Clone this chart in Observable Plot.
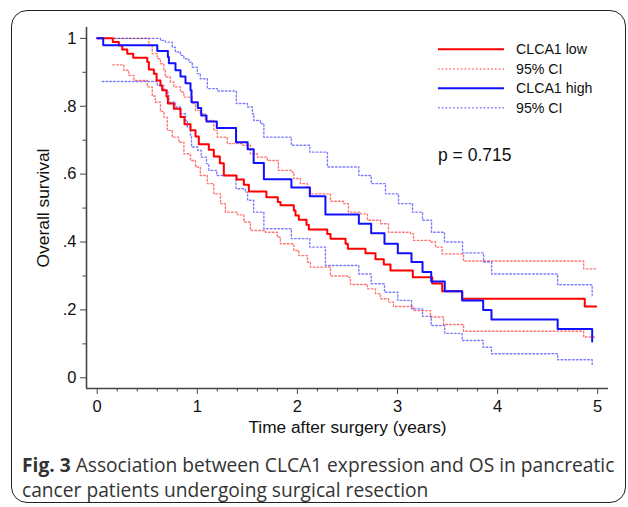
<!DOCTYPE html>
<html><head><meta charset="utf-8">
<script src="https://cdn.jsdelivr.net/npm/d3@7"></script>
<script src="https://cdn.jsdelivr.net/npm/@observablehq/plot@0.6"></script>
<style>
body{margin:0;background:#fff;}
#wrap{position:relative;width:628px;height:507px;overflow:hidden;background:#fff;}
#frame{position:absolute;left:11px;top:10px;width:615px;height:493px;box-sizing:border-box;border:1.6px solid #222;border-radius:16px;}
#chart{position:absolute;left:0;top:0;}
#chart svg text{font-family:"Liberation Sans", Arial, sans-serif;}
#caption{position:absolute;left:22px;top:452px;font-family:"Open Sans";font-size:19.2px;line-height:25px;color:#333;white-space:nowrap;}
</style></head><body>
<div id="wrap"><div id="frame"></div><div id="chart"></div>
<div id="caption"><b>Fig. 3</b> Association between CLCA1 expression and OS in pancreatic<br>cancer patients undergoing surgical resection</div></div>
<script>
// ---- data ----
const lowTime = [0,0.156,0.216,0.25,0.30,0.36,0.50,0.516,0.566,0.593,0.632,0.649,0.692,0.706,0.766,0.832,0.872,0.932,0.982,1.015,1.115,1.165,1.225,1.265,1.392,1.465,1.515,1.69,1.804,1.831,1.964,1.981,2.014,2.091,2.114,2.298,2.331,2.481,2.504,2.680,2.780,2.863,2.930,3.153,3.347,3.447,3.646,4.871,4.985];
const lowSurv = [1,.989,.979,.967,.955,.943,.930,.908,.896,.876,.861,.847,.829,.808,.793,.768,.747,.729,.711,.688,.672,.652,.632,.596,.584,.569,.549,.532,.518,.508,.493,.478,.466,.451,.437,.424,.410,.395,.380,.367,.349,.334,.316,.296,.278,.255,.233,.210,.210];

const lowUpTime = [0.166,0.516,0.55,0.60,0.632,0.666,0.68,0.73,0.766,0.832,0.866,0.95,0.982,1.03,1.08,1.165,1.20,1.30,1.45,1.53,1.60,1.70,1.81,1.95,1.964,2.03,2.10,2.13,2.33,2.46,2.51,2.63,2.70,2.83,2.91,3.13,3.16,3.33,3.38,3.446,3.66,4.86,4.985];
const lowUpSurv = [1,.979,.955,.94,.925,.906,.886,.871,.857,.842,.827,.808,.788,.778,.758,.729,.709,.69,.685,.66,.65,.64,.611,.606,.587,.572,.562,.542,.52,.513,.488,.483,.464,.454,.429,.424,.405,.40,.385,.365,.344,.321,.321];

const lowLoTime = [0.156,0.266,0.316,0.366,0.50,0.55,0.58,0.632,0.666,0.70,0.75,0.816,0.866,0.932,0.982,1.03,1.10,1.165,1.232,1.28,1.40,1.465,1.53,1.68,1.80,1.83,1.964,2.014,2.10,2.13,2.33,2.50,2.53,2.70,2.78,2.83,2.91,2.96,3.16,3.33,3.46,3.66,4.86,4.985];
const lowLoSurv = [.922,.906,.891,.876,.857,.83,.812,.785,.768,.729,.709,.694,.66,.640,.621,.596,.572,.542,.513,.488,.480,.459,.434,.429,.414,.395,.375,.360,.341,.326,.30,.296,.275,.262,.248,.233,.223,.21,.198,.179,.157,.137,.12,.12];

const highTime = [0,0.06,0.60,0.706,0.716,0.782,0.832,0.882,0.932,0.942,1.005,1.039,1.092,1.195,1.387,1.503,1.563,1.665,1.94,2.124,2.28,2.614,2.737,2.87,3.003,3.14,3.25,3.337,3.472,3.646,3.856,3.939,4.60,4.945];
const highSurv = [1,.98,.963,.945,.927,.906,.888,.868,.847,.812,.795,.773,.755,.736,.694,.673,.633,.585,.561,.535,.481,.454,.426,.395,.367,.341,.312,.284,.255,.228,.200,.172,.144,.107];

const highUpTime = [0.06,0.632,0.68,0.75,0.78,0.832,0.866,0.915,0.95,1.0,1.03,1.10,1.20,1.39,1.50,1.55,1.565,1.63,1.665,1.94,2.124,2.30,2.614,2.737,2.88,3.01,3.15,3.25,3.34,3.47,3.65,3.86,3.94,4.60,4.945];
const highUpSurv = [1,.994,.989,.974,.96,.95,.94,.93,.915,.896,.881,.852,.845,.808,.798,.778,.758,.749,.709,.685,.665,.621,.596,.572,.542,.513,.488,.464,.429,.40,.368,.341,.306,.274,.243];

const highLoTime = [0.05,0.60,0.666,0.706,0.716,0.782,0.832,0.882,0.90,0.932,0.942,1.005,1.039,1.092,1.115,1.195,1.387,1.48,1.503,1.563,1.665,1.94,2.124,2.28,2.614,2.737,2.87,3.003,3.14,3.25,3.337,3.472,3.646,3.856,3.939,4.60,4.945];
const highLoSurv = [.873,.861,.847,.832,.812,.798,.778,.758,.739,.715,.68,.67,.65,.631,.611,.596,.557,.547,.523,.488,.439,.41,.385,.331,.306,.277,.252,.228,.203,.181,.154,.131,.11,.09,.071,.053,.039];

const xTicks = [0,1,2,3,4,5];
const xTickLabels = ["0","1","2","3","4","5"];
const xMinorTicks = [0.2,0.4,0.6,0.8,1.2,1.4,1.6,1.8,2.2,2.4,2.6,2.8,3.2,3.4,3.6,3.8,4.2,4.4,4.6,4.8];
const yTicks = [0,0.2,0.4,0.6,0.8,1];
const yTickLabels = ["0",".2",".4",".6",".8","1"];
const yMinorTicks = [0.1,0.3,0.5,0.7,0.9];
const xLabel = "Time after surgery (years)";
const yLabel = "Overall survival";
const legendLabels = ["CLCA1 low","95% CI","CLCA1 high","95% CI"];
const pText = "p = 0.715";

const red = "#ff0000", blue = "#1010ff";
const toRows = (t, s) => t.map((d, i) => ({t: d, s: s[i]}));
const xDomain = [-0.107, 5.108], yDomain = [-0.0315, 1.032];
const ciStyle = {strokeWidth: 1.4, strokeOpacity: 0.55, strokeDasharray: "1.6,2.2"};

const chart = Plot.plot({
  width: 628, height: 440,
  marginLeft: 86, marginRight: 20, marginTop: 27, marginBottom: 52,
  x: {domain: xDomain},
  y: {domain: yDomain},
  style: {fontFamily: "Liberation Sans", fontSize: "16px", color: "#111", background: "transparent"},
  marks: [
    Plot.ruleX([xDomain[0]], {stroke: "#444", strokeWidth: 1.6}),
    Plot.ruleY([yDomain[0]], {stroke: "#444", strokeWidth: 1.6}),
    Plot.axisY({ticks: yTicks, tickFormat: (d, i) => yTickLabels[i], tickSize: 6, tickPadding: 4, label: null, stroke: "#444", fontSize: 16.5}),
    Plot.axisY({ticks: yMinorTicks, tickFormat: () => "", tickSize: 3.5, label: null, stroke: "#444"}),
    Plot.axisX({ticks: xTicks, tickFormat: (d, i) => xTickLabels[i], tickSize: 6, tickPadding: 6, label: null, stroke: "#444", fontSize: 16.5}),
    Plot.axisX({ticks: xMinorTicks, tickFormat: () => "", tickSize: 3.5, label: null, stroke: "#444"}),
    Plot.text([yLabel], {frameAnchor: "left", dx: -43, rotate: -90, textAnchor: "middle", lineAnchor: "middle", fontSize: 17.4, fill: "#111"}),
    Plot.text([xLabel], {frameAnchor: "bottom", dy: 38.5, textAnchor: "middle", lineAnchor: "middle", fontSize: 17.3, fill: "#111"}),
    Plot.line(toRows(lowUpTime, lowUpSurv), {x: "t", y: "s", curve: "step-after", stroke: red, ...ciStyle}),
    Plot.line(toRows(lowLoTime, lowLoSurv), {x: "t", y: "s", curve: "step-after", stroke: red, ...ciStyle}),
    Plot.line(toRows(highUpTime, highUpSurv), {x: "t", y: "s", curve: "step-after", stroke: blue, ...ciStyle}),
    Plot.line(toRows(highLoTime, highLoSurv), {x: "t", y: "s", curve: "step-after", stroke: blue, ...ciStyle}),
    Plot.line(toRows(lowTime, lowSurv), {x: "t", y: "s", curve: "step-after", stroke: red, strokeWidth: 2}),
    Plot.line(toRows(highTime, highSurv), {x: "t", y: "s", curve: "step-after", stroke: blue, strokeWidth: 2})
  ]
});

// legend & p-value (non-data annotations, pixel placed)
const svg = d3.select(chart);
const legRows = [49.3, 69, 88.3, 107.7];
const legStyles = [
  {stroke: red, w: 2, dash: null, op: 1},
  {stroke: red, w: 1.4, dash: "1.6,2.2", op: 0.55},
  {stroke: blue, w: 2, dash: null, op: 1},
  {stroke: blue, w: 1.4, dash: "1.6,2.2", op: 0.55}
];
const g = svg.append("g").attr("text-anchor", "start").attr("font-family", "Liberation Sans");
legendLabels.forEach((lab, i) => {
  const st = legStyles[i];
  g.append("line").attr("x1", 438).attr("x2", 504).attr("y1", legRows[i]).attr("y2", legRows[i])
    .attr("stroke", st.stroke).attr("stroke-width", st.w).attr("stroke-opacity", st.op)
    .attr("stroke-dasharray", st.dash);
  g.append("text").attr("x", 516).attr("y", legRows[i]).attr("dy", "0.35em")
    .attr("text-anchor", "start").attr("font-size", 14.2).attr("fill", "#111").text(lab);
});
g.append("text").attr("x", 438).attr("y", 161).attr("text-anchor", "start").attr("font-size", 17.5).attr("fill", "#111").text(pText);

document.getElementById("chart").appendChild(chart);
</script>
</body></html>
